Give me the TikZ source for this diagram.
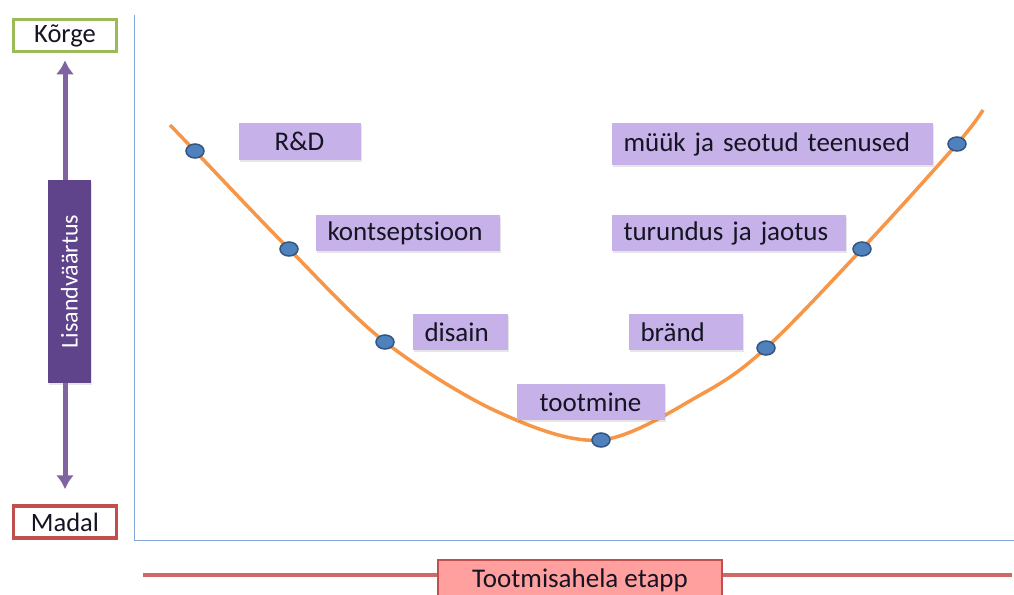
\documentclass[tikz,border=0pt]{standalone}
\usepackage{fontspec}
\setmainfont{Carlito}
\usetikzlibrary{shapes.geometric,shadows,arrows.meta}

\definecolor{viola}{RGB}{128,100,162}
\definecolor{violascuro}{RGB}{95,68,140}
\definecolor{lilla}{RGB}{198,178,232}
\definecolor{arancio}{RGB}{247,150,70}
\definecolor{blupunto}{RGB}{79,129,189}
\definecolor{blubordo}{RGB}{50,85,130}
\definecolor{asse}{RGB}{130,165,215}
\definecolor{verde}{RGB}{155,187,89}
\definecolor{rosso}{RGB}{192,80,77}
\definecolor{rossolinea}{RGB}{205,105,102}
\definecolor{rosa}{RGB}{255,160,158}
\definecolor{testo}{RGB}{20,20,35}

\begin{document}
\begin{tikzpicture}[x=1pt, y=-1pt, line width=1pt,
    etichetta/.style={fill=lilla, text=testo, font=\fontsize{27}{32}\selectfont,
        inner xsep=12pt, inner ysep=0pt, anchor=west,
        drop shadow={opacity=0.2, shadow xshift=1pt, shadow yshift=-2pt}},
    allsx/.style={align=left},
    allcx/.style={align=center},
    punto/.style={ellipse, draw=blubordo, fill=blupunto, line width=1.5pt,
        minimum width=18pt, minimum height=14pt, inner sep=0pt},
    livello/.style={draw, line width=3.5pt, fill=white, text=testo,
        minimum width=103pt, minimum height=32pt, inner sep=0pt,
        font=\fontsize{26.5}{30}\selectfont}]

    \useasboundingbox (0,0) rectangle (1014,594);

    % --- Assi del grafico ---
    \draw[asse] (134,15) -- (134,540) -- (1014,540);

    % --- Scala verticale: Korge / Madal ---
    \node[livello, draw=verde] (korge) at (65,35.5) {Kõrge};
    \node[livello, draw=rosso] (madal) at (65,522) {Madal};
    \draw[viola, line width=5pt, {Latex[length=14pt,width=18pt]}-{Latex[length=14pt,width=18pt]},
        shorten <=7pt, shorten >=15pt] (korge) -- (madal);
    \node[fill=violascuro, text=white, rotate=90, minimum width=203pt, minimum height=43pt,
        inner sep=0pt, font=\fontsize{24}{28}\selectfont,
        drop shadow={opacity=0.2, shadow xshift=1pt, shadow yshift=-2pt}]
        (lisand) at (69.5,281.5) {Lisandväärtus};

    % --- Curva a sorriso (punti della catena) ---
    \coordinate (inizio) at (170,125);
    \coordinate (p1) at (195,151);
    \coordinate (p2) at (289,249);
    \coordinate (p3) at (385,342);
    \coordinate (q1) at (498,412);
    \coordinate (p4) at (601,440);
    \coordinate (q2) at (702,394);
    \coordinate (p5) at (766,348);
    \coordinate (p6) at (862,249);
    \coordinate (p7) at (957,144);
    \coordinate (fine) at (983,110);
    \draw[arancio, line width=3.5pt] plot[smooth, tension=0.55] coordinates
        {(inizio) (p1) (p2) (p3) (q1) (p4) (q2) (p5) (p6) (p7) (fine)};

    \foreach \p in {1,...,7} {
        \node[punto] (d\p) at (p\p) {};
    }

    % --- Etichette delle fasi ---
    % \nome = nome, \x = bordo sinistro, \y = quota, \w = larghezza, \h = altezza, \al = allineamento
    \foreach \nome / \x / \y / \w / \h / \al / \testo [evaluate=\w as \tw using \w-24] in {
        rd    / 238 / 141.5 / 122 / 37 /allcx/ R\&D,
        kons  / 315 / 233   / 184 / 36 /allsx/ kontseptsioon,
        dis   / 412 / 332   / 95  / 36 /allsx/ disain,
        toot  / 516 / 402   / 148 / 36 /allcx/ tootmine,
        brand / 628 / 332   / 114 / 36 /allsx/ bränd,
        turu  / 611 / 233   / 234 / 36 /allsx/ turundus ja jaotus,
        muuk  / 611 / 144   / 321 / 42 /allsx/ müük ja seotud teenused
    } {
        \node[etichetta, text width=\tw pt, minimum height=\h pt, \al]
            (\nome) at (\x,\y) {\testo};
    }

    % --- Barra inferiore: etapp ---
    \coordinate (barsx) at (143,575);
    \coordinate (bardx) at (1012,575);
    \draw[rossolinea, line width=3.5pt] (barsx) -- (bardx);
    \node[fill=rosa, draw=rosso, line width=1.5pt, minimum width=284pt, minimum height=40pt,
        inner sep=0pt, text=testo, font=\fontsize{27}{32}\selectfont]
        (etapp) at (580,580) {Tootmisahela etapp};

\end{tikzpicture}
\end{document}
